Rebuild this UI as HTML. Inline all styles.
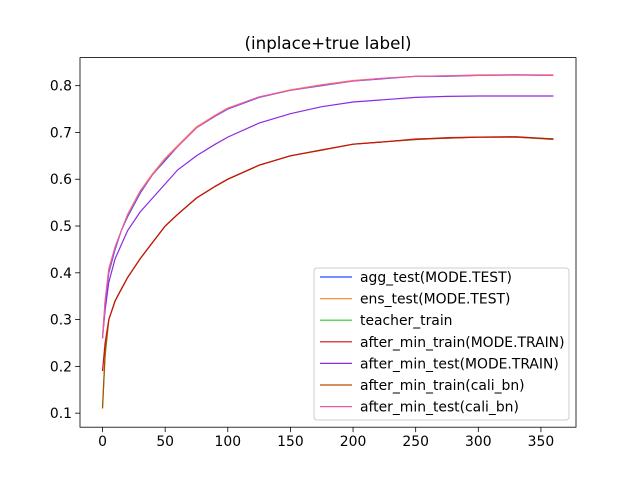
<!DOCTYPE html>
<html><head><meta charset="utf-8"><style>
body{margin:0;background:#fff;}
svg text{font-family:"DejaVu Sans","Liberation Sans",sans-serif;}
</style></head><body>
<svg id="chart" width="640" height="480" xmlns="http://www.w3.org/2000/svg"></svg>
<script>
const steps = [0,2,5,10,15,20,30,40,50,60,75,90,100,125,150,175,200,225,250,275,300,330,360];
const aggTest = [0.26,0.33,0.40,0.45,0.49,0.52,0.57,0.61,0.64,0.67,0.71,0.735,0.75,0.775,0.79,0.80,0.81,0.815,0.82,0.82,0.822,0.823,0.822];
const ensTest = [0.26,0.34,0.41,0.455,0.49,0.525,0.575,0.612,0.645,0.672,0.712,0.737,0.752,0.776,0.791,0.802,0.811,0.816,0.82,0.821,0.823,0.823,0.823];
const teacherTrain = [0.11,0.22,0.30,0.34,0.365,0.39,0.43,0.465,0.50,0.525,0.56,0.585,0.60,0.63,0.65,0.662,0.675,0.68,0.685,0.688,0.69,0.69,0.685];
const afterMinTrain = [0.19,0.25,0.30,0.34,0.365,0.39,0.43,0.465,0.50,0.525,0.56,0.585,0.60,0.63,0.65,0.663,0.675,0.68,0.686,0.688,0.69,0.691,0.686];
const afterMinTest = [0.26,0.32,0.38,0.43,0.46,0.49,0.53,0.56,0.59,0.62,0.65,0.675,0.69,0.72,0.74,0.755,0.765,0.77,0.775,0.777,0.778,0.778,0.778];
const afterMinTrainCali = [0.11,0.23,0.30,0.34,0.365,0.39,0.43,0.465,0.50,0.525,0.56,0.585,0.60,0.63,0.65,0.662,0.675,0.68,0.685,0.689,0.69,0.69,0.686];
const afterMinTestCali = [0.26,0.34,0.405,0.455,0.49,0.523,0.573,0.61,0.643,0.67,0.71,0.736,0.751,0.776,0.79,0.801,0.81,0.816,0.82,0.821,0.822,0.823,0.822];
const xTicks = [0,50,100,150,200,250,300,350];
const yTicks = [0.1,0.2,0.3,0.4,0.5,0.6,0.7,0.8];
const seriesNames = ["agg_test(MODE.TEST)","ens_test(MODE.TEST)","teacher_train","after_min_train(MODE.TRAIN)","after_min_test(MODE.TRAIN)","after_min_train(cali_bn)","after_min_test(cali_bn)"];
const seriesData = [aggTest,ensTest,teacherTrain,afterMinTrain,afterMinTest,afterMinTrainCali,afterMinTestCali];
const colors = ["#1f4fff","#ff8c3c","#22cc22","#cc1111","#8a2be2","#b34d00","#ee55aa"];
const L=80,R=576,T=57.6,B=427.2, xmin=-18,xmax=378, ymin=0.07,ymax=0.86;
const sx=v=>L+(v-xmin)/(xmax-xmin)*(R-L);
const sy=v=>B-(v-ymin)/(ymax-ymin)*(B-T);
const svg=document.getElementById('chart');
const NS="http://www.w3.org/2000/svg";
function mk(tag,attrs,parent){const e=document.createElementNS(NS,tag);for(const k in attrs)e.setAttribute(k,attrs[k]);(parent||svg).appendChild(e);return e;}
let t=mk('text',{x:328,y:49,'text-anchor':'middle','font-size':'16.7'});t.textContent="(inplace+true label)";


const order=[2,5,3,4,0,1,6];
order.forEach(i=>{
  const d=seriesData[i].map((v,j)=>(j?'L':'M')+sx(steps[j]).toFixed(1)+','+sy(v).toFixed(1)).join('');
  const p=mk('path',{d:d,fill:'none',stroke:colors[i],'stroke-width':1.2});
  
  
});
const frame=mk('rect',{x:L,y:T,width:R-L,height:B-T,fill:'none',stroke:'#000','stroke-width':0.8});


xTicks.forEach(v=>{
  const x=sx(v);
  mk('line',{x1:x,x2:x,y1:B,y2:B+4.9,stroke:'#000','stroke-width':0.8});
  const tx=mk('text',{x:x,y:B+19,'text-anchor':'middle','font-size':'13.9'});tx.textContent=v;
  
  
});
yTicks.forEach(v=>{
  const y=sy(v);
  mk('line',{x1:L-4.9,x2:L,y1:y,y2:y,stroke:'#000','stroke-width':0.8});
  const ty=mk('text',{x:L-8,y:y+5,'text-anchor':'end','font-size':'13.9'});ty.textContent=v.toFixed(1);
  
  
});
const lg=mk('g',{});


mk('rect',{x:314,y:268,width:255,height:152,rx:3,fill:'#fff','fill-opacity':0.8,stroke:'#ccc'},lg);
seriesNames.forEach((n,i)=>{
  const y=277+i*21.6;
  mk('line',{x1:320,x2:352,y1:y,y2:y,stroke:colors[i],'stroke-width':1.2},lg);
  const e=mk('text',{x:360,y:y+5,'font-size':'13.9'},lg);e.textContent=n;
  
  
});
</script>
</body></html>
